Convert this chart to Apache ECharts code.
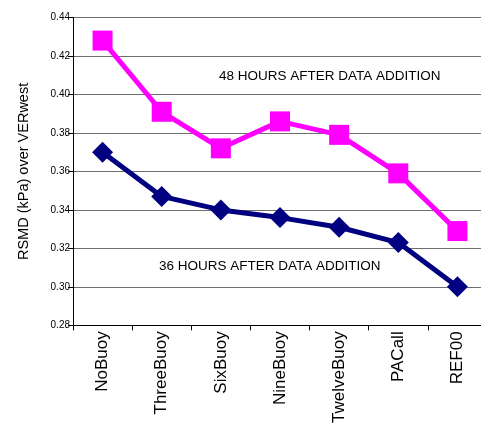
<!DOCTYPE html>
<html>
<head>
<meta charset="utf-8">
<script src="https://cdn.jsdelivr.net/npm/echarts@6/dist/echarts.min.js"></script>
<style>html,body{margin:0;padding:0;background:#fff;overflow:hidden}#c{width:488px;height:426px}</style>
</head>
<body>
<div id="c"></div>
<script>
var categories = ['NoBuoy', 'ThreeBuoy', 'SixBuoy', 'NineBuoy', 'TwelveBuoy', 'PACall', 'REF00'];
var hours48 = [0.428, 0.391, 0.372, 0.386, 0.379, 0.359, 0.329];
var hours36 = [0.370, 0.347, 0.340, 0.336, 0.331, 0.323, 0.300];
var yTicks = { min: 0.28, max: 0.44, interval: 0.02 };
var yAxisName = 'RSMD (kPa) over VERwest';
var note48 = '48 HOURS AFTER DATA ADDITION';
var note36 = '36 HOURS AFTER DATA ADDITION';

var chart = echarts.init(document.getElementById('c'), null, { renderer: 'canvas' });
var font = 'Liberation Sans, Arial, sans-serif';
chart.setOption({
  animation: false,
  backgroundColor: '#fff',
  grid: { left: 73, right: 1, top: 17.5, height: 309.8 },
  xAxis: {
    type: 'category',
    data: categories,
    boundaryGap: true,
    axisLine: { lineStyle: { color: '#000', width: 1 } },
    axisTick: { show: true, length: 5, lineStyle: { color: '#000' } },
    axisLabel: { rotate: 90, color: '#000', fontSize: 17, fontFamily: font, margin: 6, interval: 0 },
    splitLine: { show: false }
  },
  yAxis: {
    type: 'value',
    min: yTicks.min, max: yTicks.max, interval: yTicks.interval,
    name: yAxisName,
    nameLocation: 'middle',
    nameGap: 42,
    nameTextStyle: { color: '#000', fontSize: 14.5, fontFamily: font },
    axisLine: { show: true, lineStyle: { color: '#000', width: 1 } },
    axisTick: { show: true, inside: false, length: 5, lineStyle: { color: '#000' } },
    axisLabel: { color: '#000', fontSize: 10, fontFamily: font, margin: 3,
      formatter: function (v) { return v.toFixed(2); } },
    splitLine: { show: true, lineStyle: { color: '#6e6e6e', width: 1 } }
  },
  series: [
    {
      name: '48h', type: 'line', data: hours48,
      symbol: 'rect', symbolSize: 20,
      lineStyle: { color: '#ff00ff', width: 5 },
      itemStyle: { color: '#ff00ff' },
      z: 3
    },
    {
      name: '36h', type: 'line', data: hours36,
      symbol: 'diamond', symbolSize: 21,
      lineStyle: { color: '#000080', width: 5 },
      itemStyle: { color: '#000080' },
      z: 4
    }
  ],
  graphic: [
    { type: 'text', left: 219, top: 69, style: { text: note48, fill: '#000', fontSize: 13.5, fontFamily: font } },
    { type: 'text', left: 159, top: 259, style: { text: note36, fill: '#000', fontSize: 13.5, fontFamily: font } }
  ]
});
</script>
</body>
</html>
